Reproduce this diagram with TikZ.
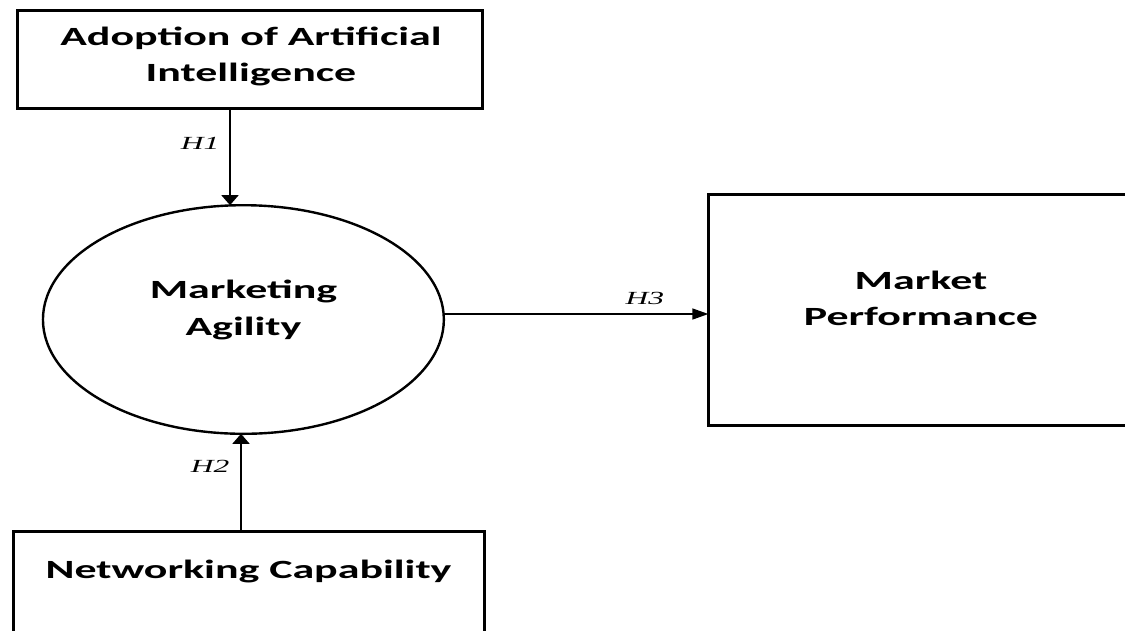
\documentclass[tikz,border=0pt]{standalone}
\usepackage{fontspec}
\usetikzlibrary{shapes.geometric,arrows.meta}
\newfontfamily\boxfont[FakeStretch=1.67]{Carlito Bold}
\newfontfamily\hypfont[FakeStretch=1.7]{Liberation Serif Italic}

\begin{document}
\begin{tikzpicture}[x=1pt,y=-1pt,
  box/.style={draw, line width=2.6pt, inner sep=0pt, outer sep=0pt},
  boxtext/.style={font=\boxfont\fontsize{26.3}{36.5}\selectfont, align=center, inner sep=0pt, anchor=base},
  link/.style={line width=1.5pt},
  vtip/.style={-{Triangle[length=10pt,width=17pt]}},
  htip/.style={-{Triangle[length=16pt,width=11pt]}},
  hyp/.style={font=\hypfont\fontsize{18.5}{20}\selectfont, inner sep=0pt}]

\useasboundingbox (0,0) rectangle (1125,630);
\clip (0,0) rectangle (1125,630);

% constructs (text nodes are anchored at the baseline of their last line)
\node[box, minimum width=465.4pt, minimum height=98.4pt] (ai) at (250,59.5) {};
\node[boxtext] (aitext) at (251,81.7) {Adoption of Artificial\\Intelligence};

\node[box, ellipse, line width=2.4pt, minimum width=400.9pt, minimum height=228.6pt] (ma) at (243.4,319.5) {};
\node[boxtext] (matext) at (243.5,335) {Marketing\\Agility};

\node[box, minimum width=426.7pt, minimum height=231.4pt] (mp) at (921.7,310) {};
\node[boxtext] (mptext) at (921,325.7) {Market\\Performance};

\node[box, minimum width=471.4pt, minimum height=128.7pt] (nc) at (249,595.65) {};
\node[boxtext] (nctext) at (248.5,578) {Networking Capability};

% hypothesised paths
\coordinate (c1) at (230,0);
\coordinate (c2) at (241,0);
\coordinate (c3) at (0,314);

\draw[link,vtip] (ai.south -| c1) -- node[hyp, pos=0.36, left=10pt] (h1) {H1} (c1 |- ma.north);
\draw[link,vtip] (nc.north -| c2) -- node[hyp, pos=0.67, left=11pt] (h2) {H2} (c2 |- ma.south);
\draw[link,htip] (ma.east |- c3) -- node[hyp, pos=0.76, above=9pt] (h3) {H3} (mp.west |- c3);
\end{tikzpicture}
\end{document}
